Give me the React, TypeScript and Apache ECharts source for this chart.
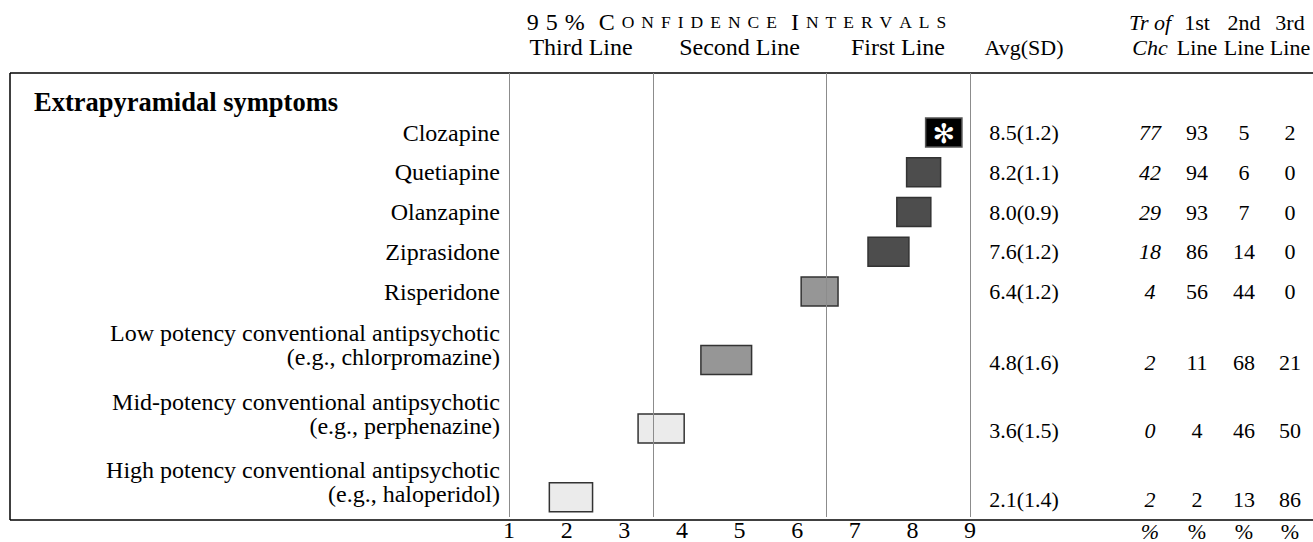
import React, { useEffect, useRef } from "react";
import * as echarts from "echarts";

// ---------- data ----------
const sectionTitle = "Extrapyramidal symptoms";
const drugs = [
  "Clozapine",
  "Quetiapine",
  "Olanzapine",
  "Ziprasidone",
  "Risperidone",
  "Low potency conventional antipsychotic\n(e.g., chlorpromazine)",
  "Mid-potency conventional antipsychotic\n(e.g., perphenazine)",
  "High potency conventional antipsychotic\n(e.g., haloperidol)",
];
const ciLow = [8.23, 7.9, 7.73, 7.23, 6.07, 4.33, 3.24, 1.7];
const ciHigh = [8.86, 8.49, 8.32, 7.94, 6.71, 5.21, 4.04, 2.45];
const avgScore = [8.5, 8.2, 8.0, 7.6, 6.4, 4.8, 3.6, 2.1];
const sdScore = [1.2, 1.1, 0.9, 1.2, 1.2, 1.6, 1.5, 1.4];
const treatmentOfChoice = [77, 42, 29, 18, 4, 2, 0, 2];
const firstLinePct = [93, 94, 93, 86, 56, 11, 4, 2];
const secondLinePct = [5, 6, 7, 14, 44, 68, 46, 13];
const thirdLinePct = [2, 0, 0, 0, 0, 21, 50, 86];
const tierBounds = [3.5, 6.5];
const tierNames = ["Third Line", "Second Line", "First Line"];
const axisMin = 1;
const axisMax = 9;
const ciTitle = "95% Confidence Intervals";

// ---------- layout ----------
const W = 1313;
const H = 542;
const GRID_LEFT = 509;
const GRID_RIGHT_X = 970;
const GRID_TOP = 73;
const GRID_BOTTOM_Y = 520;
const FRAME_LEFT = 10;
const FIRST_ROW = 60;
const GAP_SINGLE = 40;
const GAP_DOUBLE = 69;
const BOTTOM_PAD = 20;
const BOX_H = 29;
const LINE_H = 24;
const FS = 24;
const TFS = 22;
const SERIF = "'Liberation Serif', 'Times New Roman', serif";
const COL = { avg: 1024, tr: 1150, first: 1197, second: 1244, third: 1290 };
const HEAD_Y1 = 22;
const HEAD_Y2 = 47;
const FOOT_Y = 531;

const rowY: number[] = [];
drugs.forEach((d, i) => {
  if (i === 0) rowY.push(FIRST_ROW);
  else rowY.push(rowY[i - 1] + (d.includes("\n") ? GAP_DOUBLE : GAP_SINGLE));
});
const yMax = rowY[rowY.length - 1] + BOTTOM_PAD;

const xPix = (v: number) =>
  GRID_LEFT + ((v - axisMin) / (axisMax - axisMin)) * (GRID_RIGHT_X - GRID_LEFT);

const fillFor = (i: number) =>
  treatmentOfChoice[i] >= 50
    ? "#000000"
    : ciLow[i] >= tierBounds[1]
    ? "#4d4d4d"
    : ciLow[i] >= tierBounds[0]
    ? "#969696"
    : "#ebebeb";

function smallCapsRich(s: string) {
  const parts: string[] = [];
  for (let k = 0; k < s.length; k++) {
    const c = s[k];
    if (c === " ") {
      parts.push("{w| }");
      continue;
    }
    const small = c !== c.toUpperCase();
    parts.push(`{${small ? "s" : "b"}|${c.toUpperCase()}}`);
    if (k + 1 < s.length && s[k + 1] !== " ") parts.push("{g| }");
  }
  return parts.join("");
}

const txt = (
  x: number,
  y: number,
  text: string,
  align: string,
  italic = false,
  bold = false,
  size = FS
) => ({
  type: "text",
  silent: true,
  style: {
    text,
    x,
    y,
    align,
    verticalAlign: "middle",
    fill: "#000",
    font: `${italic ? "italic " : ""}${bold ? "bold " : ""}${size}px ${SERIF}`,
  },
});

export default function App() {
  const ref = useRef<HTMLDivElement>(null);

  useEffect(() => {
    document.body.style.margin = "0";
    if (!ref.current) return;
    const chart = echarts.init(ref.current, undefined, { renderer: "svg" });

    const graphics: any[] = [
      // frame
      { type: "line", silent: true, shape: { x1: FRAME_LEFT, y1: GRID_TOP, x2: W, y2: GRID_TOP }, style: { stroke: "#000", lineWidth: 1.5 } },
      { type: "line", silent: true, shape: { x1: FRAME_LEFT, y1: GRID_BOTTOM_Y, x2: W, y2: GRID_BOTTOM_Y }, style: { stroke: "#000", lineWidth: 1.5 } },
      { type: "line", silent: true, shape: { x1: FRAME_LEFT, y1: GRID_TOP, x2: FRAME_LEFT, y2: GRID_BOTTOM_Y }, style: { stroke: "#000", lineWidth: 1.5 } },
      // CI title
      {
        type: "text",
        silent: true,
        style: {
          text: smallCapsRich(ciTitle),
          x: (GRID_LEFT + GRID_RIGHT_X) / 2 - 3,
          y: HEAD_Y1,
          align: "center",
          verticalAlign: "middle",
          fill: "#000",
          fontFamily: SERIF,
          rich: {
            b: { fontSize: 24, fontFamily: SERIF, fill: "#000" },
            s: { fontSize: 17.5, fontFamily: SERIF, fill: "#000" },
            g: { fontSize: 28, fontFamily: SERIF },
            w: { fontSize: 56, fontFamily: SERIF },
          },
        },
      },
      // tier names
      ...tierNames.map((t, k) => {
        const lo = k === 0 ? axisMin : tierBounds[k - 1];
        const hi = k === tierNames.length - 1 ? axisMax : tierBounds[k];
        return txt(xPix((lo + hi) / 2), HEAD_Y2, t, "center");
      }),
      // right headers
      txt(COL.avg, HEAD_Y2, "Avg(SD)", "center", false, false, TFS),
      txt(COL.tr, HEAD_Y1, "Tr of", "center", true, false, TFS),
      txt(COL.tr, HEAD_Y2, "Chc", "center", true, false, TFS),
      txt(COL.first, HEAD_Y1, "1st", "center", false, false, TFS),
      txt(COL.first, HEAD_Y2, "Line", "center", false, false, TFS),
      txt(COL.second, HEAD_Y1, "2nd", "center", false, false, TFS),
      txt(COL.second, HEAD_Y2, "Line", "center", false, false, TFS),
      txt(COL.third, HEAD_Y1, "3rd", "center", false, false, TFS),
      txt(COL.third, HEAD_Y2, "Line", "center", false, false, TFS),
      // section title
      txt(34, GRID_TOP + 29, sectionTitle, "left", false, true, 26.5),
      // percent row
      txt(COL.tr, FOOT_Y, "%", "center", true, false, TFS),
      txt(COL.first, FOOT_Y, "%", "center", false, false, TFS),
      txt(COL.second, FOOT_Y, "%", "center", false, false, TFS),
      txt(COL.third, FOOT_Y, "%", "center", false, false, TFS),
    ];

    chart.setOption({
      animation: false,
      grid: {
        left: GRID_LEFT,
        right: W - GRID_RIGHT_X,
        top: GRID_TOP,
        bottom: H - GRID_BOTTOM_Y,
        containLabel: false,
      },
      xAxis: {
        type: "value",
        min: axisMin,
        max: axisMax,
        interval: 1,
        axisLine: { show: false },
        axisTick: { show: false },
        splitLine: { show: false },
        axisLabel: { fontSize: FS, fontFamily: SERIF, color: "#000", margin: 1 },
      },
      yAxis: { type: "value", min: 0, max: yMax, inverse: true, show: false },
      graphic: graphics,
      series: [
        {
          type: "line",
          data: [],
          z: 1,
          silent: true,
          markLine: {
            silent: true,
            symbol: "none",
            label: { show: false },
            lineStyle: { color: "#8c8c8c", width: 1, type: "solid" },
            data: [axisMin, ...tierBounds, axisMax].map((v) => ({ xAxis: v })),
          },
        },
        {
          type: "custom",
          z: 3,
          clip: false,
          silent: true,
          data: drugs.map((_, i) => [ciLow[i], ciHigh[i], rowY[i], i]),
          encode: { x: [0, 1], y: 2 },
          renderItem: (_p: any, api: any) => {
            const i = api.value(3);
            const lo = api.coord([api.value(0), api.value(2)]);
            const hi = api.coord([api.value(1), api.value(2)]);
            const star = treatmentOfChoice[i] >= 50;
            const children: any[] = [
              {
                type: "rect",
                shape: { x: lo[0], y: lo[1] - BOX_H / 2, width: hi[0] - lo[0], height: BOX_H },
                style: { fill: fillFor(i), stroke: star ? "#555" : "#333", lineWidth: 1.5 },
              },
            ];
            if (star) {
              children.push({
                type: "text",
                style: {
                  text: "✻",
                  x: (lo[0] + hi[0]) / 2,
                  y: lo[1] + 1,
                  align: "center",
                  verticalAlign: "middle",
                  fill: "#fff",
                  font: "bold 27px 'DejaVu Sans'",
                },
              });
            }
            return { type: "group", children };
          },
        },
        {
          type: "custom",
          z: 2,
          clip: false,
          silent: true,
          data: drugs.map((_, i) => [rowY[i], i]),
          encode: { y: 0 },
          renderItem: (_p: any, api: any) => {
            const i = api.value(1);
            const p = api.coord([axisMin, api.value(0)]);
            const lines = drugs[i].split("\n");
            const children: any[] = [];
            lines.forEach((ln, k) => {
              const dy = lines.length === 1 ? 0 : (k - (lines.length - 1)) * LINE_H - 3;
              children.push(txt(p[0] - 9, p[1] + dy, ln, "right"));
            });
            const vy = p[1] + (lines.length > 1 ? 2 : 0);
            children.push(txt(COL.avg, vy, `${avgScore[i].toFixed(1)}(${sdScore[i].toFixed(1)})`, "center", false, false, TFS));
            children.push(txt(COL.tr, vy, String(treatmentOfChoice[i]), "center", true, false, TFS));
            children.push(txt(COL.first, vy, String(firstLinePct[i]), "center", false, false, TFS));
            children.push(txt(COL.second, vy, String(secondLinePct[i]), "center", false, false, TFS));
            children.push(txt(COL.third, vy, String(thirdLinePct[i]), "center", false, false, TFS));
            return { type: "group", children };
          },
        },
      ],
    });

    return () => chart.dispose();
  }, []);

  return <div ref={ref} style={{ width: W, height: H }} />;
}
